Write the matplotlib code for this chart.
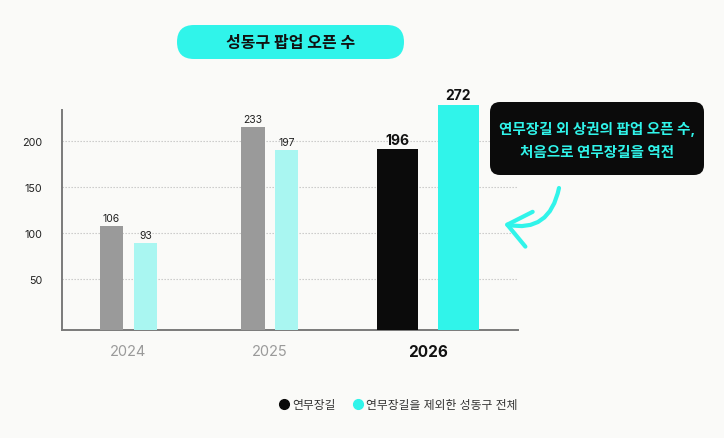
import matplotlib
matplotlib.use("Agg")
import matplotlib.pyplot as plt
from matplotlib.patches import FancyBboxPatch, FancyArrowPatch
from matplotlib.lines import Line2D

plt.rcParams['font.family'] = ['Inter', 'Noto Sans CJK KR', 'DejaVu Sans']

# ---- data ----
years = ["2024", "2025", "2026"]
series_names = ["연무장길", "연무장길을 제외한 성동구 전체"]
# printed values
yeonmujang_labels = [106, 233, 196]
others_labels = [93, 197, 272]
# bar heights as drawn in the picture (the original is not to scale)
yeonmujang_heights = [107.6, 215, 191]
others_heights = [89, 190, 239]
yticks = [50, 100, 150, 200]
title = "성동구 팝업 오픈 수"
note = "연무장길 외 상권의 팝업 오픈 수,\n처음으로 연무장길을 역전"

# ---- style ----
BG = "#fafaf8"
CYAN = "#30f4ea"
LIGHT_CYAN = "#a9f6f1"
GRAY = "#9a9a9a"
BLACK = "#0b0b0b"

W, H = 724, 439
fig = plt.figure(figsize=(W / 100, H / 100), dpi=100, facecolor=BG)

def frac(px, py):
    return px / W, 1 - py / H

left, bottom_px, right, top_px = 62, 331, 518, 111
ax = fig.add_axes([left / W, 1 - bottom_px / H, (right - left) / W, (bottom_px - top_px) / H])
ax.set_facecolor(BG)

y0 = -5.4
ax.set_ylim(y0, 233.7)
ax.set_xlim(-0.47, 2.753)

group_x = [0, 1, 2.117]
offsets = [(-0.12, 0.12), (-0.12, 0.12), (-0.216, 0.215)]
widths = [0.163, 0.163, 0.29]
colors_a = [GRAY, GRAY, BLACK]
colors_b = [LIGHT_CYAN, LIGHT_CYAN, CYAN]

for i in range(len(years)):
    xa = group_x[i] + offsets[i][0]
    xb = group_x[i] + offsets[i][1]
    ax.bar(xa, yeonmujang_heights[i] - y0, bottom=y0, width=widths[i],
           color=colors_a[i], clip_on=False, zorder=3)
    ax.bar(xb, others_heights[i] - y0, bottom=y0, width=widths[i],
           color=colors_b[i], clip_on=False, zorder=3)
    if i < 2:
        kw = dict(fontsize=7.5, color="#222222")
        pad = 3
    else:
        kw = dict(fontsize=10, color="#111111", fontweight="bold")
        pad = 3
    ax.text(xa, yeonmujang_heights[i] + pad, str(yeonmujang_labels[i]), ha="center", va="bottom", **kw)
    ax.text(xb, others_heights[i] + pad, str(others_labels[i]), ha="center", va="bottom", **kw)

ax.set_yticks(yticks)
ax.set_yticklabels([str(v) for v in yticks], fontsize=7.8, color="#222222")
ax.tick_params(axis="y", length=0, pad=14)
ax.yaxis.grid(True, linestyle=(0, (1.2, 1.5)), color="#c4c4c4", linewidth=0.8, zorder=0)
ax.set_axisbelow(True)

ax.set_xticks(group_x)
ax.set_xticklabels(years)
ax.tick_params(axis="x", length=0, pad=10)
for i, lab in enumerate(ax.get_xticklabels()):
    if i < 2:
        lab.set_fontsize(10.5)
        lab.set_color("#9a9a9a")
    else:
        lab.set_fontsize(11)
        lab.set_color("#111111")
        lab.set_fontweight("bold")

for s in ["top", "right"]:
    ax.spines[s].set_visible(False)
for s in ["left", "bottom"]:
    ax.spines[s].set_color("#7a7a7a")
    ax.spines[s].set_linewidth(1.4)

# ---- overlay in pixel coordinates ----
ov = fig.add_axes([0, 0, 1, 1], zorder=10)
ov.set_xlim(0, W)
ov.set_ylim(H, 0)
ov.axis("off")
ov.patch.set_alpha(0)

# title pill
ov.add_patch(FancyBboxPatch((177, 26), 227, 34,
                            boxstyle="round,pad=0,rounding_size=17",
                            facecolor=CYAN, edgecolor="none"))
ov.text(290.5, 43.5, title, ha="center", va="center", fontsize=11.5,
        fontweight="bold", color="#111111")

# annotation box
ov.add_patch(FancyBboxPatch((490, 103), 214, 73,
                            boxstyle="round,pad=0,rounding_size=10",
                            facecolor=BLACK, edgecolor="none"))
ov.text(597, 141, note, ha="center", va="center", fontsize=10.5,
        fontweight="bold", color=CYAN, linespacing=1.75)

# curved arrow
ov.add_patch(FancyArrowPatch((559, 189), (504, 225), connectionstyle="arc3,rad=-0.5",
                             arrowstyle="->,head_length=10,head_width=8",
                             color=CYAN, linewidth=3, mutation_scale=1.6,
                             shrinkA=0, shrinkB=0, capstyle="round", joinstyle="round"))

# legend
handles = [Line2D([], [], marker="o", linestyle="", markersize=7, color=BLACK),
           Line2D([], [], marker="o", linestyle="", markersize=7, color=CYAN)]
leg = fig.legend(handles, series_names, loc="center", bbox_to_anchor=frac(398, 406),
                 ncol=2, frameon=False, fontsize=8.5, handletextpad=0.2,
                 columnspacing=1.4, handlelength=1.0, labelcolor="#333333")

fig.savefig("out.png", dpi=100, facecolor=BG)
